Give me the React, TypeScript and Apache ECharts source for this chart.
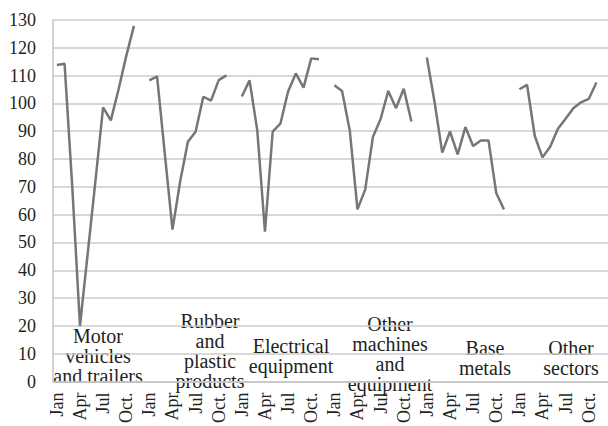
import React, { useEffect, useRef } from "react";
import * as echarts from "echarts";

const months = ["Jan", "Feb", "Mar", "Apr", "May", "Jun", "Jul", "Aug", "Sep", "Oct.", "Nov", "Dec"];

const motorVehicles = [113.8, 114.3, 70, 20, 46, 72, 98.6, 93.9, 105, 117, 127.9];
const rubberPlastic = [108.3, 109.7, 82, 54.6, 72, 86.2, 89.8, 102.4, 101, 108.4, 110.1];
const electrical = [102.5, 108.3, 90.3, 53.9, 89.9, 92.7, 104.3, 110.8, 105.7, 116.2, 115.9];
const otherMachines = [106.5, 104.5, 90.3, 61.9, 69, 87.9, 94.4, 104.5, 98.3, 105.3, 93.5];
const baseMetals = [116.5, 100.5, 82.3, 89.9, 81.7, 91.5, 84.7, 86.7, 86.7, 67.8, 61.9];
const otherSectors = [105.1, 106.7, 88.3, 80.6, 84.4, 90.9, 94.5, 98.3, 100.4, 101.6, 107.5];

const groupNames = [
  "Motor\nvehicles\nand trailers",
  "Rubber\nand\nplastic\nproducts",
  "Electrical\nequipment",
  "Other\nmachines\nand\nequipment",
  "Base\nmetals",
  "Other\nsectors",
];

const yTicks = { min: 0, max: 130, interval: 10 };

const groups = [motorVehicles, rubberPlastic, electrical, otherMachines, baseMetals, otherSectors];

export default function App() {
  const ref = useRef<HTMLDivElement>(null);
  useEffect(() => {
    if (!ref.current) return;
    const chart = echarts.init(ref.current, null, { renderer: "svg" });
    const categories: string[] = [];
    const values: (number | null)[] = [];
    groups.forEach((g) => {
      months.forEach((m, i) => {
        categories.push(m);
        values.push(i < g.length ? g[i] : null);
      });
    });
    const font = "'Liberation Serif', 'Times New Roman', serif";
    const labelPos = [
      { x: 98, y: 326 },
      { x: 210, y: 311 },
      { x: 291, y: 336 },
      { x: 390, y: 314 },
      { x: 485, y: 338 },
      { x: 571, y: 338 },
    ];
    chart.setOption({
      animation: false,
      textStyle: { fontFamily: font },
      grid: { left: 53, right: -12, top: 20, bottom: 40, containLabel: false },
      xAxis: {
        type: "category",
        data: categories,
        boundaryGap: true,
        axisLine: { show: true, lineStyle: { color: "#c4c4c4", width: 1.5 } },
        axisTick: { show: false },
        axisLabel: {
          interval: 2,
          rotate: 90,
          margin: 11,
          fontSize: 18,
          fontFamily: font,
          color: "#231f20",
        },
      },
      yAxis: {
        type: "value",
        min: yTicks.min,
        max: yTicks.max,
        interval: yTicks.interval,
        axisLine: { show: true, lineStyle: { color: "#c4c4c4", width: 1.5 } },
        axisTick: { show: false },
        axisLabel: { margin: 17, fontSize: 18, fontFamily: font, color: "#231f20" },
        splitLine: { show: true, lineStyle: { color: "#cbcbcb", width: 1.5 } },
      },
      series: [
        {
          type: "line",
          data: values,
          connectNulls: false,
          symbol: "none",
          lineStyle: { color: "#767676", width: 2.5 },
        },
      ],
      graphic: groupNames.map((name, i) => ({
        type: "text",
        x: labelPos[i].x,
        y: labelPos[i].y,
        silent: true,
        style: {
          text: name,
          fill: "#231f20",
          fontSize: 20,
          fontFamily: font,
          textAlign: "center",
          textVerticalAlign: "top",
          lineHeight: 20,
        },
      })),
    });
    return () => chart.dispose();
  }, []);
  return (
    <div
      ref={ref}
      style={{ position: "fixed", left: 0, top: 0, width: 608, height: 426, background: "#fff" }}
    />
  );
}
